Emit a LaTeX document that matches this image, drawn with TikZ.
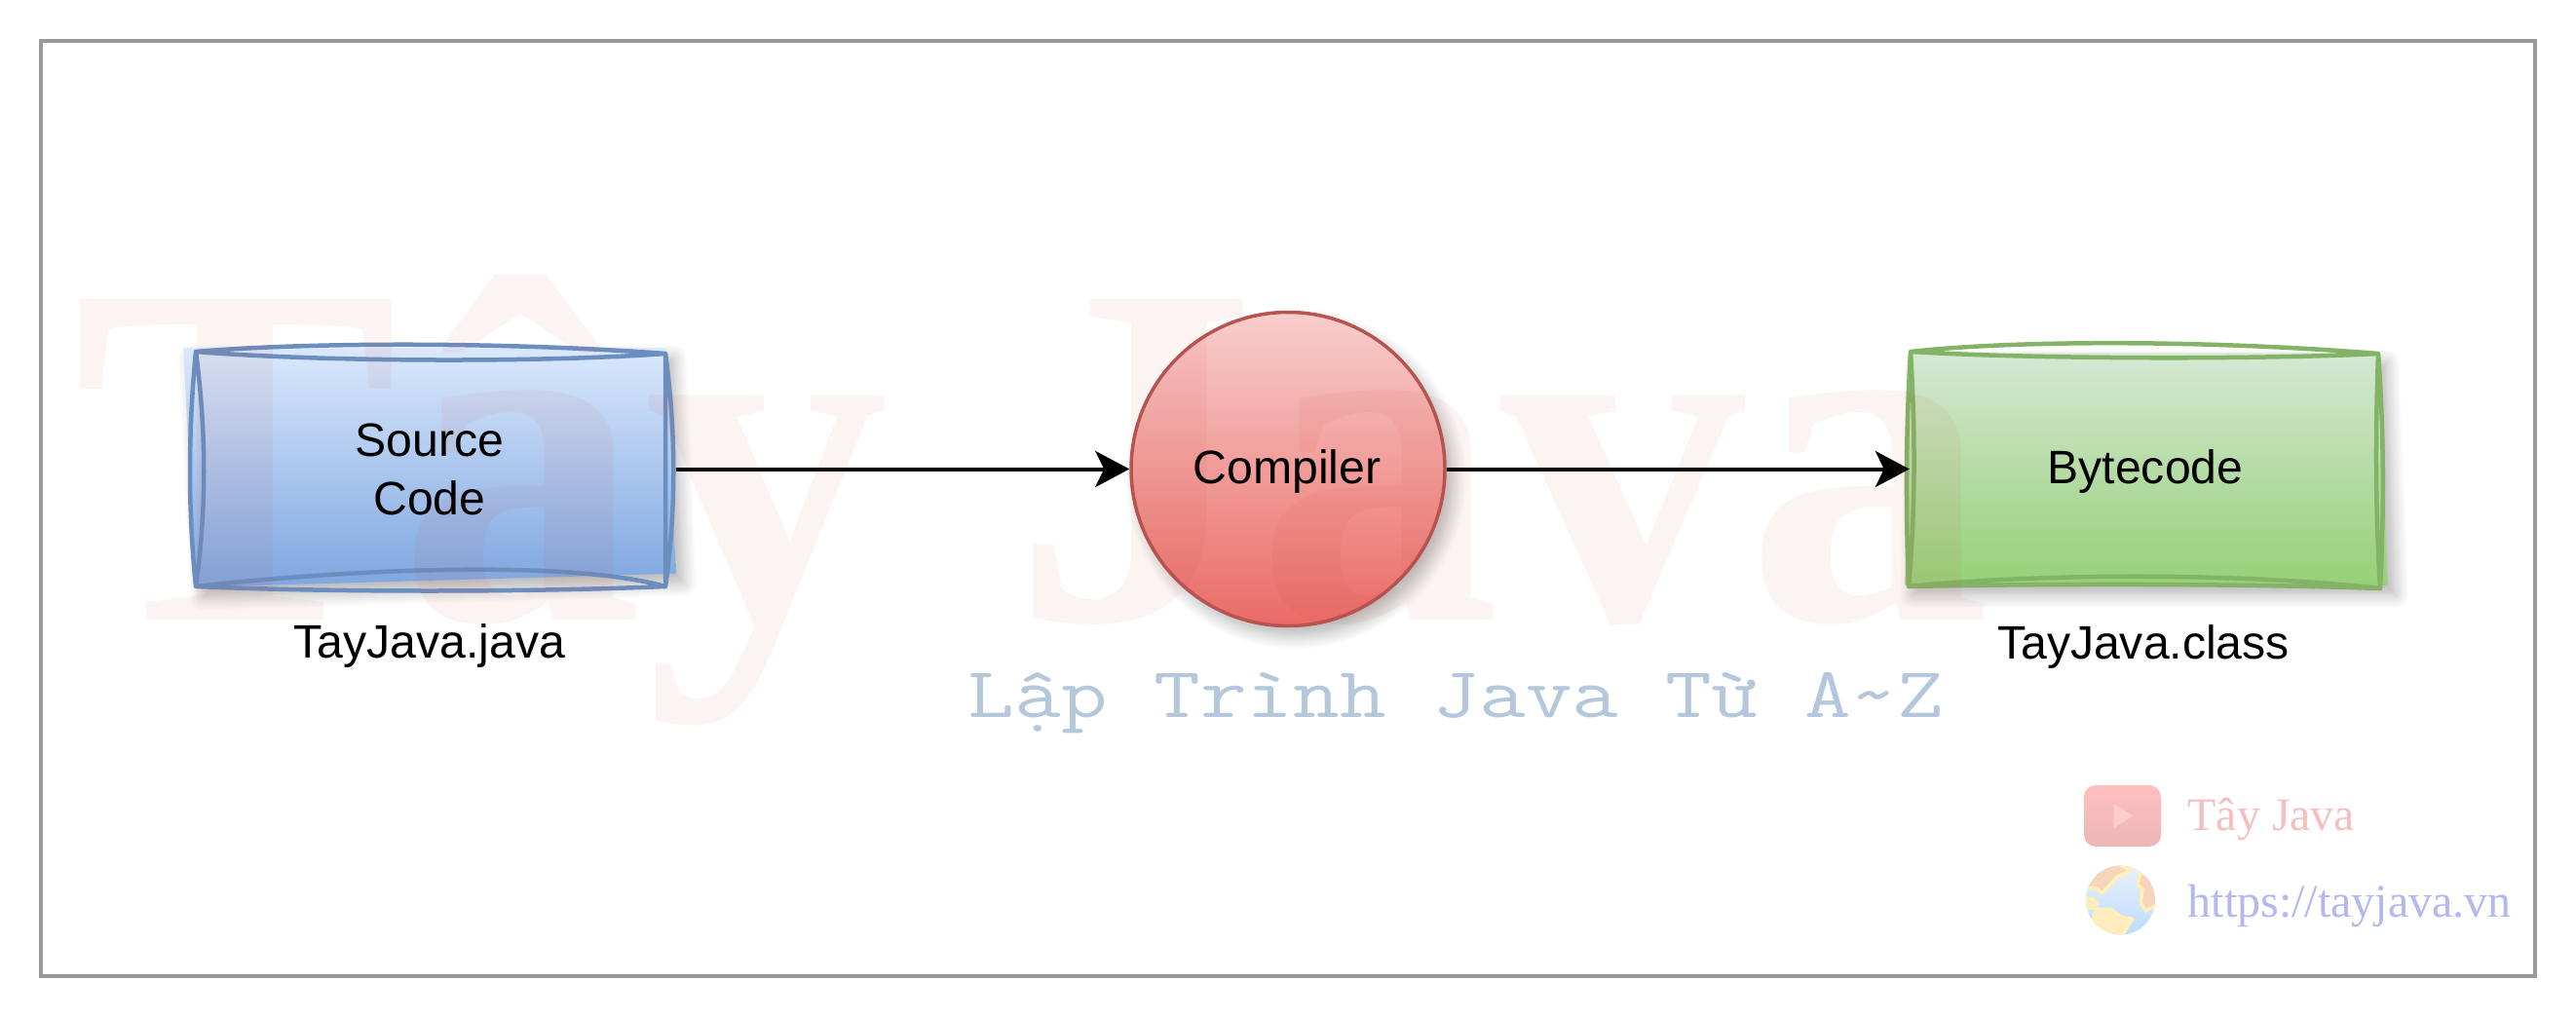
\documentclass[tikz,border=0pt]{standalone}
\usepackage{fontspec}
\usetikzlibrary{arrows.meta,shadows.blur}
\setmainfont{Liberation Sans}
\newfontfamily\markfont{Liberation Serif}
\newfontfamily\bigmarkfont[FakeStretch=1.0]{Liberation Serif}
\newfontfamily\submarkfont[FakeStretch=1.255]{Latin Modern Mono}
\definecolor{blueline}{HTML}{6C8EBF}
\definecolor{redline}{HTML}{B85450}
\definecolor{greenline}{HTML}{82B366}
\definecolor{markred}{HTML}{C83C32}
\tikzset{
    softshadow/.style={blur shadow={shadow xshift=.08cm,shadow yshift=-.1cm,shadow blur steps=10,shadow blur radius=.14cm,shadow opacity=30}},
    box/.style={minimum width=#1,inner sep=0pt},
    bluefill/.style={shade,top color={rgb,255:red,218;green,232;blue,252},bottom color={rgb,255:red,126;green,166;blue,224},softshadow},
    greenfill/.style={shade,top color={rgb,255:red,213;green,232;blue,212},bottom color={rgb,255:red,151;green,208;blue,119},softshadow},
    label/.style={font=\fontsize{13.7}{17}\selectfont,align=center,inner sep=0pt},
    sketch/.style={line width=.045cm,line join=round},
    conn/.style={-{Stealth[length=.35cm,width=.37cm,inset=.09cm]},line width=.04cm,black},
}
\begin{document}
\begin{tikzpicture}
    \useasboundingbox (0,0) rectangle (26.44,10.44);
    \node[draw=black!40,line width=.035cm,minimum width=25.6cm,minimum height=9.6cm,inner sep=0pt] (Frame) at (13.22,5.22) {};

    \node[box=5.04cm,minimum height=2.35cm] (Source) at (4.41,5.685) {};
    \node[box=4.94cm,minimum height=2.37cm] (Bytecode) at (22.03,5.625) {};
    \node[circle,minimum size=3.22cm,inner sep=0pt,draw=redline,line width=.035cm,softshadow,shade,top color={rgb,255:red,248;green,206;blue,204},bottom color={rgb,255:red,234;green,107;blue,102}] (Compiler) at (13.22,5.625) {};

    % fills lean a little, as the hand drawn style does
    \path[bluefill] (Source.north west) -- ([xshift=-.1cm]Source.north east) -- ([yshift=.05cm]Source.south east) -- ([xshift=.12cm,yshift=-.09cm]Source.south west) -- cycle;
    \path[greenfill] ([xshift=.05cm]Bytecode.north west) -- ([xshift=-.09cm]Bytecode.north east) -- (Bytecode.south east) -- (Bytecode.south west) -- cycle;

    % sketchy outlines
    \draw[sketch,blueline] (2.01,6.83) .. controls (3.2,6.93) and (5.2,6.93) .. (6.83,6.81)
        .. controls (5.6,6.72) and (3.4,6.72) .. (2.01,6.83)
        .. controls (1.93,6) and (1.93,5.2) .. (2.01,4.42)
        .. controls (3.4,4.36) and (5.4,4.36) .. (6.83,4.42)
        .. controls (5.9,4.68) and (3.8,4.62) .. (2.01,4.42)
        .. controls (2.12,5.2) and (2.12,6) .. (2.01,6.83);
    \draw[sketch,blueline] (6.83,6.81) .. controls (6.94,6) and (6.94,5.2) .. (6.83,4.42)
        .. controls (6.83,5.2) and (6.83,6) .. (6.83,6.81);
    \draw[sketch,greenline] (19.61,6.83) .. controls (20.8,6.96) and (22.8,6.94) .. (24.41,6.81)
        .. controls (23.2,6.75) and (21,6.75) .. (19.61,6.83)
        .. controls (19.56,6) and (19.56,5.2) .. (19.59,4.42)
        .. controls (21,4.56) and (23,4.56) .. (24.43,4.40)
        .. controls (23,4.45) and (21,4.45) .. (19.59,4.42)
        .. controls (19.66,5.2) and (19.66,6) .. (19.61,6.83);
    \draw[sketch,greenline] (24.41,6.81) .. controls (24.38,6) and (24.38,5.2) .. (24.43,4.40)
        .. controls (24.47,5.2) and (24.47,6) .. (24.41,6.81);

    \node[label] (SourceText) at (4.41,5.62) {Source\\Code};
    \node[label] (BytecodeText) at (22.02,5.6) {Bytecode};
    \node[label] (CompilerText) at (13.21,5.6) {Compiler};
    \node[label,anchor=base] (JavaFile) at (4.41,3.69) {TayJava.java};
    \node[label,anchor=base] (ClassFile) at (22.0,3.68) {TayJava.class};

    \draw[conn] (Source.east |- Compiler.west) -- (Compiler.west);
    \draw[conn,shorten >=-.045cm] (Compiler.east) -- (Bytecode.west);

    % watermark on top of everything
    \node[anchor=base west,inner sep=0pt,text=markred,text opacity=.06,font=\bigmarkfont\bfseries\fontsize{143}{143}\selectfont] (Watermark) at (.74,4.08) {Tây Java};
    \node[anchor=base west,inner sep=0pt,text={rgb,255:red,181;green,199;blue,218},font=\submarkfont\fontsize{21}{21}\selectfont] (Slogan) at (9.93,3.08) {Lập Trình Java Từ A\textasciitilde Z};

    % channel badges
    \node[minimum width=.79cm,minimum height=.63cm,inner sep=0pt,rounded corners=.12cm,shade,top color={rgb,255:red,255;green,191;blue,191},bottom color={rgb,255:red,237;green,182;blue,182}] (Youtube) at (21.785,2.065) {};
    \fill[red!20!white] ([xshift=-.09cm,yshift=.125cm]Youtube.center) -- ([xshift=.11cm]Youtube.center) -- ([xshift=-.09cm,yshift=-.125cm]Youtube.center) -- cycle;
    \node[anchor=base west,inner sep=0pt,text={rgb,255:red,245;green,191;blue,191},font=\markfont\fontsize{13.6}{14}\selectfont] (Channel) at (22.45,1.92) {Tây Java};

    \node[circle,minimum size=.71cm,inner sep=0pt,shade,top color={rgb,255:red,236;green,239;blue,247},bottom color={rgb,255:red,187;green,221;blue,255}] (Globe) at (21.765,1.20) {};
    \begin{scope}
        \clip (Globe) circle (.355cm);
        \begin{scope}[shift={(Globe)},x=.00347cm,y=-.00333cm,line width=.035cm,draw={rgb,255:red,255;green,240;blue,184},line join=round]
            \draw[fill={rgb,255:red,245;green,213;blue,188}] (-110,-32) -- (-90,-37) -- (-70,-37) -- (-55,-22) -- (-45,-32) -- (-10,-72) -- (30,-92) -- (-20,-120) -- (-110,-72) -- cycle;
            \draw[fill={rgb,255:red,245;green,213;blue,188}] (60,-87) -- (50,-47) -- (65,-37) -- (60,8) -- (75,33) -- (120,8) -- (120,-52) -- cycle;
            \draw[fill={rgb,255:red,255;green,235;blue,190}] (-75,28) -- (-30,28) -- (5,53) -- (35,58) -- (20,83) -- (0,120) -- (-60,120) -- (-80,60) -- cycle;
            \draw[fill={rgb,255:red,255;green,235;blue,190}] (-120,-5) -- (-85,-5) -- (-70,10) -- (-85,25) -- (-120,20) -- cycle;
        \end{scope}
    \end{scope}
    \node[anchor=base west,inner sep=0pt,text={rgb,255:red,179;green,184;blue,238},font=\markfont\fontsize{13.65}{14}\selectfont] (Site) at (22.45,1.03) {https://tayjava.vn};
\end{tikzpicture}
\end{document}
